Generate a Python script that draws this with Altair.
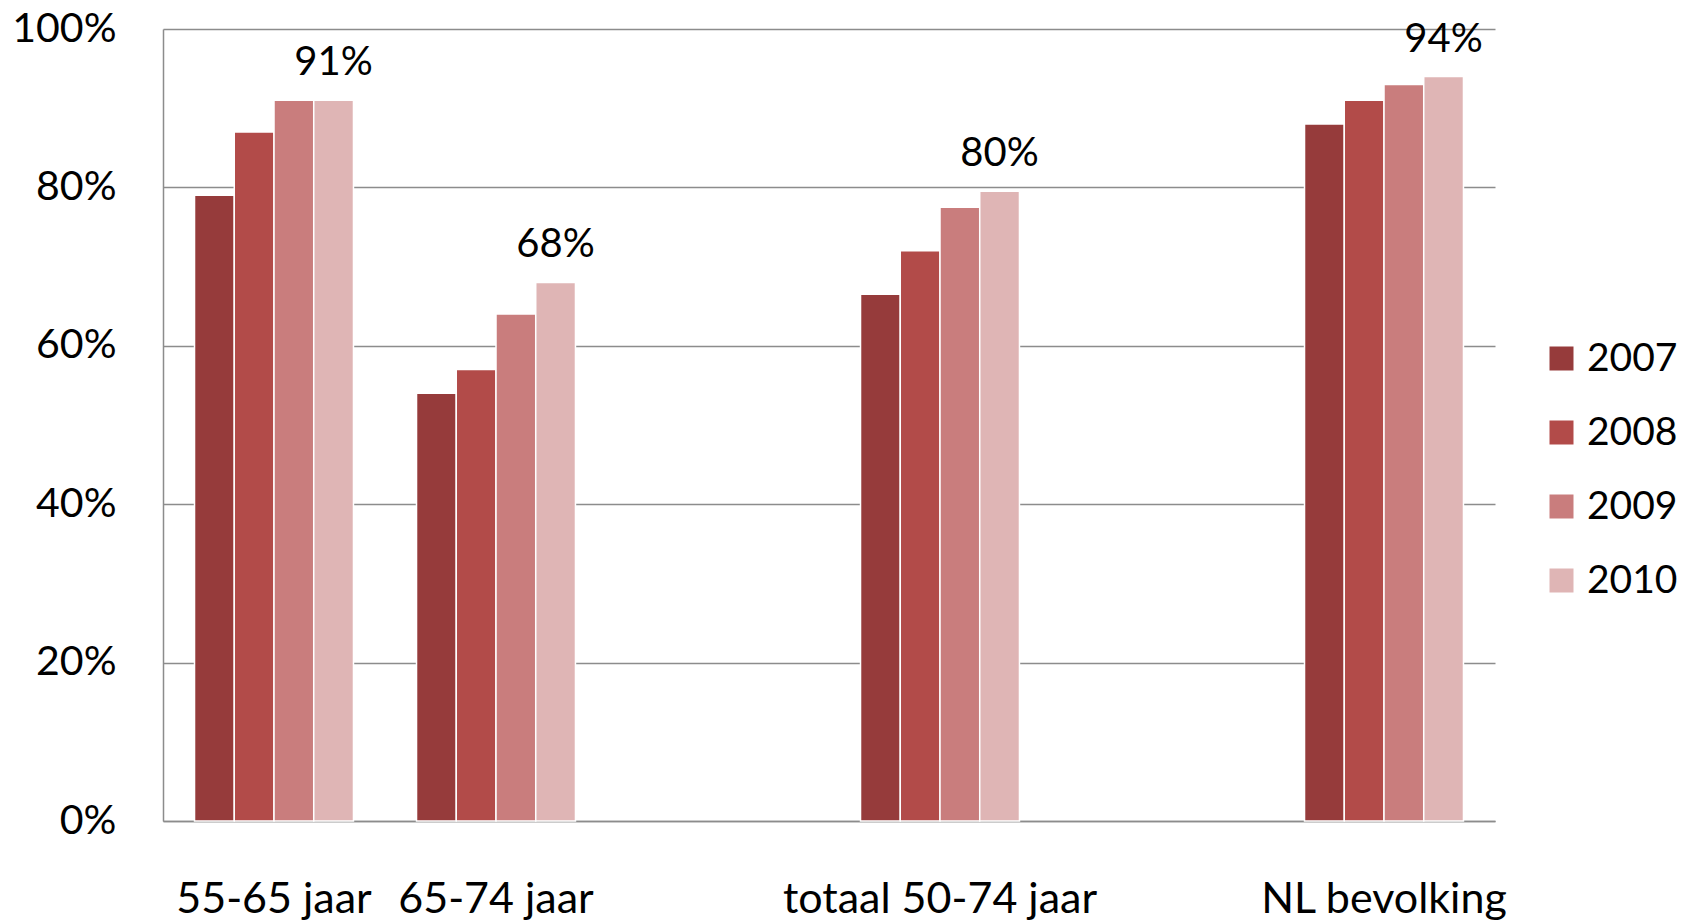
import altair as alt
import pandas as pd

# categories (two empty slots as in the original layout)
groups = ["55-65 jaar", "65-74 jaar", "totaal 50-74 jaar", "NL bevolking"]
x_domain = ["55-65 jaar", "65-74 jaar", " ", "totaal 50-74 jaar", "  ", "NL bevolking"]
years = ["2007", "2008", "2009", "2010"]

v2007 = [79, 54, 66.5, 88]
v2008 = [87, 57, 72, 91]
v2009 = [91, 64, 77.5, 93]
v2010 = [91, 68, 79.5, 94]
labels_2010 = ["91%", "68%", "80%", "94%"]

colors = ["#963b3b", "#b24b49", "#c97d7d", "#dfb5b5"]
y_ticks = [0, 20, 40, 60, 80, 100]

rows = []
for yr, vals in zip(years, [v2007, v2008, v2009, v2010]):
    for g, v in zip(groups, vals):
        rows.append({"group": g, "year": yr, "value": v, "label": ""})
for g, v, lab in zip(groups, v2010, labels_2010):
    for r in rows:
        if r["group"] == g and r["year"] == "2010":
            r["label"] = lab
df = pd.DataFrame(rows)

FONT = "Lato"
GRID = "#8c8c8c"

x_enc = alt.X(
    "group:N",
    scale=alt.Scale(domain=x_domain, paddingInner=0.284, paddingOuter=0.142),
    axis=alt.Axis(
        title=None, labelAngle=0, labelFont=FONT, labelFontSize=43,
        labelColor="black", labelPadding=91, labelBaseline="alphabetic",
        labelLimit=0, labelOverlap=False,
        ticks=False, tickSize=0, domainColor=GRID, domainWidth=1.5, grid=False,
    ),
)
y_enc = alt.Y(
    "value:Q",
    scale=alt.Scale(domain=[0, 100], nice=False),
    axis=alt.Axis(
        title=None, values=y_ticks, labelExpr="datum.value + '%'",
        labelFont=FONT, labelFontSize=41, labelColor="black", labelPadding=47,
        ticks=False, tickSize=0, gridColor=GRID, gridWidth=1.5,
        domainColor=GRID, domainWidth=1.5,
    ),
)
xoff = alt.XOffset("year:N", scale=alt.Scale(domain=years, paddingInner=0, paddingOuter=0))

bars = alt.Chart(df).mark_bar(stroke="white", strokeWidth=1.5).encode(
    x=x_enc,
    xOffset=xoff,
    y=y_enc,
    color=alt.Color(
        "year:N",
        scale=alt.Scale(domain=years, range=colors),
        legend=alt.Legend(
            title=None, orient="none", legendX=1379, legendY=310,
            symbolType="square", symbolSize=576, symbolStrokeWidth=0,
            labelFont=FONT, labelFontSize=39, labelColor="black",
            rowPadding=34, labelOffset=6, padding=0, labelLimit=0,
        ),
    ),
)

text = alt.Chart(df).transform_filter(alt.datum.year == "2010").mark_text(
    baseline="alphabetic", dy=-25, fontSize=40, font=FONT, color="black"
).encode(
    x=alt.X("group:N"),
    xOffset=alt.XOffset("year:N"),
    y=alt.Y("value:Q"),
    text="label:N",
)

chart = (
    alt.layer(bars, text)
    .properties(
        width=1332, height=792,
        autosize=alt.AutoSizeParams(type="none"),
        padding={"left": 155, "top": 21, "right": 186, "bottom": 100},
    )
    .configure_view(strokeWidth=0)
)

chart.save("out.html", embed_options={"renderer": "svg", "actions": False})
